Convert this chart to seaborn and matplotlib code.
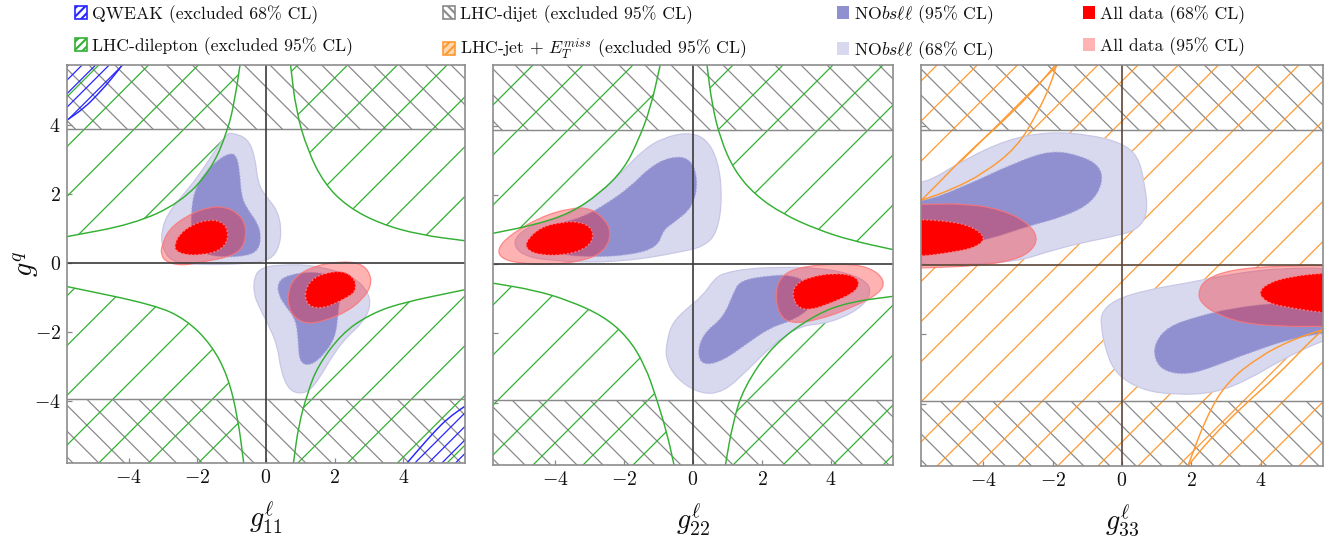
import numpy as np
import matplotlib
matplotlib.use('Agg')
import matplotlib.pyplot as plt
import seaborn as sns
from matplotlib.patches import Polygon, Patch, PathPatch
from matplotlib.path import Path
from matplotlib.collections import LineCollection

# ---------------- axes / text
xlim = (-5.8, 5.8)
ylim = (-5.8, 5.75)
ticks = [-4, -2, 0, 2, 4]
tick_labels = [r'$-4$', r'$-2$', r'$0$', r'$2$', r'$4$']
xlabels = [r'$g^{\ell}_{11}$', r'$g^{\ell}_{22}$', r'$g^{\ell}_{33}$']
ylabel = r'$g^{q}$'
dijet_cut = 3.88

# ---------------- exclusion boundaries
p1_dilep_tl = [(-5.8, 0.77), (-3.87, 1.13), (-2.5, 1.75), (-1.6, 2.7), (-1.11, 3.85), (-0.9, 4.8), (-0.75, 5.8)]
p1_dilep_tr = [(0.71, 5.8), (0.87, 4.44), (1.21, 3.28), (1.69, 2.32), (2.37, 1.64), (3.33, 1.14), (4.49, 0.82), (5.8, 0.65)]
p1_dilep_bl = [(-5.8, -0.68), (-3.24, -1.21), (-2.32, -1.64), (-1.59, -2.37), (-1.11, -3.28), (-0.82, -4.49), (-0.65, -5.8)]
p1_dilep_br = [(0.8, -5.8), (0.95, -4.7), (1.21, -3.77), (1.5, -3.0), (2.2, -2.05), (3.0, -1.5), (3.91, -1.16), (5.8, -0.77)]
p1_qweak_tl = [(-5.8, 4.15), (-5.3, 4.5), (-4.9, 4.9), (-4.5, 5.35), (-4.15, 5.8)]
p1_qweak_br = [(4.11, -5.8), (4.5, -5.35), (4.9, -4.9), (5.3, -4.5), (5.8, -4.15)]

p2_dilep_tl = [(-5.8, 0.89), (-4.6, 1.13), (-3.56, 1.47), (-2.69, 2.05), (-2.0, 2.75), (-1.62, 3.5), (-1.24, 4.46), (-0.94, 5.8)]
p2_dilep_tr = [(0.4, 5.8), (0.55, 4.6), (0.8, 3.6), (1.2, 2.7), (1.8, 2.0), (2.6, 1.45), (3.6, 1.0), (4.6, 0.68), (5.8, 0.42)]
p2_dilep_bl = [(-5.8, -0.55), (-4.6, -0.75), (-3.6, -1.05), (-2.6, -1.5), (-1.9, -2.1), (-1.4, -2.9), (-1.05, -3.9), (-0.75, -4.9), (-0.55, -5.8)]
p2_dilep_br = [(0.94, -5.8), (1.15, -4.6), (1.47, -3.56), (2.34, -2.3), (3.59, -1.43), (4.56, -1.09), (5.8, -0.93)]

p3_jet_tl_a = [(-5.8, 1.85), (-4.91, 2.16), (-3.97, 2.64), (-3.02, 3.39), (-2.44, 4.37), (-2.05, 5.2), (-1.88, 5.8)]
p3_jet_tl_b = [(-5.8, 1.85), (-5.4, 2.24), (-4.45, 3.22), (-3.48, 4.08), (-2.53, 5.03), (-1.88, 5.8)]
p3_jet_br_a = [(1.9, -5.8), (2.44, -4.37), (3.02, -3.39), (3.97, -2.64), (4.91, -2.16), (5.8, -1.87)]
p3_jet_br_b = [(1.9, -5.8), (2.53, -5.03), (3.48, -4.08), (4.45, -3.22), (5.4, -2.24), (5.8, -1.87)]

# ---------------- fit regions (no68 = light, no95 = dark, all95 = pink, all68 = red)
p1_no68_a = [(-1.01, 3.79), (-0.53, 3.62), (-0.32, 3.09), (-0.24, 2.32), (0.0, 1.93), (0.32, 1.55), (0.45, 1.01),
             (0.39, 0.48), (0.14, 0.10), (-0.53, -0.02), (-1.88, -0.05), (-2.75, 0.02), (-3.04, 0.48), (-3.04, 0.97),
             (-2.85, 1.45), (-2.46, 1.93), (-1.98, 2.51), (-1.5, 3.24), (-1.16, 3.72)]
p1_no95_a = [(-1.06, 3.19), (-0.87, 3.14), (-0.77, 2.71), (-0.72, 1.93), (-0.53, 1.55), (-0.24, 1.16), (-0.14, 0.77),
             (-0.22, 0.39), (-0.53, 0.21), (-1.3, 0.17), (-1.88, 0.29), (-2.15, 0.68), (-2.19, 1.45), (-2.08, 2.13),
             (-1.79, 2.61), (-1.4, 3.0)]
p1_all95_a = [(-3.04, 0.48), (-2.85, 0.97), (-2.27, 1.4), (-1.69, 1.62), (-1.21, 1.64), (-0.82, 1.45), (-0.61, 1.16),
              (-0.58, 0.77), (-0.72, 0.39), (-1.11, 0.17), (-1.79, 0.05), (-2.46, -0.08), (-2.95, 0.05), (-3.06, 0.29)]
p1_all68_a = [(-2.66, 0.53), (-2.54, 0.82), (-2.17, 1.11), (-1.69, 1.26), (-1.3, 1.21), (-1.11, 0.97), (-1.13, 0.6),
              (-1.4, 0.34), (-1.88, 0.24), (-2.37, 0.24), (-2.64, 0.37)]
p1_no68_b = [(-0.34, -0.39), (-0.14, -0.14), (0.34, -0.05), (1.4, -0.05), (2.56, -0.39), (3.0, -0.87), (3.04, -1.3),
             (2.8, -1.74), (2.37, -2.13), (1.98, -2.61), (1.59, -3.29), (1.26, -3.72), (0.92, -3.79), (0.63, -3.62),
             (0.43, -3.09), (0.34, -2.42), (0.1, -1.84), (-0.19, -1.3), (-0.36, -0.87)]
p1_no95_b = [(0.34, -0.56), (0.63, -0.34), (1.4, -0.24), (1.98, -0.39), (2.17, -0.87), (2.1, -1.45), (2.03, -2.13),
             (1.69, -2.66), (1.29, -2.98), (0.97, -2.88), (0.94, -2.22), (0.87, -1.64), (0.58, -1.26), (0.36, -0.92)]
p1_all95_b = [(0.63, -0.87), (0.82, -0.41), (1.4, -0.08), (2.17, 0.05), (2.75, 0.0), (3.04, -0.29), (3.06, -0.68),
              (2.8, -1.06), (2.37, -1.4), (1.79, -1.64), (1.26, -1.77), (0.87, -1.62), (0.66, -1.3)]
p1_all68_b = [(1.16, -0.77), (1.32, -0.48), (1.69, -0.29), (2.27, -0.22), (2.61, -0.48), (2.61, -0.82), (2.37, -0.99),
              (2.03, -1.16), (1.69, -1.3), (1.3, -1.28), (1.14, -1.04)]

p2_no68_a = [(-5.1, 0.85), (-4.6, 1.15), (-3.6, 1.4), (-2.7, 2.05), (-2.0, 2.72), (-1.44, 3.3), (-0.86, 3.65),
             (-0.17, 3.8), (0.36, 3.65), (0.73, 3.0), (0.85, 1.9), (0.7, 0.9), (0.3, 0.5), (-0.4, 0.35), (-1.2, 0.2),
             (-2.0, 0.1), (-3.0, 0.05), (-4.0, 0.1), (-4.8, 0.2), (-5.2, 0.5)]
p2_no95_a = [(-4.9, 0.5), (-4.6, 0.95), (-3.8, 1.2), (-3.18, 1.36), (-2.5, 1.75), (-1.82, 2.23), (-1.24, 2.81),
             (-0.66, 3.1), (-0.08, 3.07), (0.15, 2.43), (0.0, 1.65), (-0.57, 1.19), (-0.86, 0.99), (-1.03, 0.49),
             (-1.82, 0.26), (-2.98, 0.2), (-4.0, 0.3)]
p2_all95_a = [(-5.67, 0.45), (-5.3, 0.85), (-4.43, 1.36), (-3.56, 1.62), (-2.98, 1.62), (-2.54, 1.28), (-2.37, 0.9),
              (-2.54, 0.41), (-3.06, 0.12), (-4.13, -0.03), (-5.09, 0.03), (-5.57, 0.17)]
p2_all68_a = [(-4.86, 0.64), (-4.43, 1.07), (-3.76, 1.22), (-3.27, 1.22), (-2.93, 1.04), (-2.89, 0.7), (-3.18, 0.41),
              (-3.76, 0.26), (-4.43, 0.26), (-4.81, 0.41)]
p2_no68_b = [(-0.75, -2.2), (-0.6, -1.7), (-0.2, -1.3), (0.3, -0.9), (0.6, -0.45), (0.88, -0.26), (1.66, -0.12),
             (2.62, -0.09), (3.5, -0.1), (4.5, -0.25), (5.2, -0.6), (5.0, -1.2), (4.0, -1.7), (3.11, -1.77),
             (2.34, -2.3), (1.57, -3.07), (0.88, -3.7), (0.21, -3.75), (-0.5, -3.3), (-0.8, -2.7)]
p2_no95_b = [(0.3, -2.93), (0.12, -2.58), (0.3, -2.0), (0.88, -1.54), (1.17, -0.84), (1.37, -0.46), (2.33, -0.32),
             (2.82, -0.32), (3.3, -0.5), (3.5, -1.2), (2.91, -1.62), (2.24, -1.83), (1.57, -2.29), (0.88, -2.78)]
p2_all95_b = [(2.39, -0.84), (2.53, -0.37), (3.02, -0.09), (4.27, 0.03), (5.14, -0.09), (5.57, -0.46), (5.43, -0.84),
              (4.56, -1.28), (3.6, -1.62), (2.82, -1.72), (2.48, -1.43)]
p2_all68_b = [(2.87, -0.84), (3.02, -0.55), (3.4, -0.37), (4.07, -0.26), (4.65, -0.32), (4.85, -0.55), (4.65, -0.84),
              (3.98, -1.13), (3.4, -1.33), (3.02, -1.25)]

p3_no68_a = [(-6.5, 2.5), (-5.79, 2.26), (-4.54, 3.03), (-3.29, 3.61), (-2.13, 3.82), (-0.98, 3.75), (-0.02, 3.51),
             (0.46, 3.13), (0.65, 2.36), (0.75, 1.49), (0.46, 1.01), (-0.21, 0.82), (-1.17, 0.63), (-2.13, 0.38),
             (-3.0, 0.1), (-4.5, 0.0), (-6.5, 0.0)]
p3_no95_a = [(-6.5, 1.9), (-5.79, 1.78), (-4.54, 2.26), (-3.1, 2.93), (-2.04, 3.3), (-1.17, 3.13), (-0.64, 2.84),
             (-0.55, 2.36), (-0.88, 1.78), (-1.65, 1.39), (-2.71, 1.11), (-3.87, 0.72), (-5.0, 0.5), (-6.5, 0.5)]
p3_all95_a = [(-6.5, 1.73), (-5.79, 1.73), (-4.54, 1.76), (-3.48, 1.59), (-2.71, 1.2), (-2.42, 0.77), (-2.62, 0.38),
              (-3.1, 0.14), (-4.06, -0.03), (-5.79, -0.1), (-6.5, -0.1)]
p3_all68_a = [(-6.5, 1.3), (-5.79, 1.3), (-5.02, 1.25), (-4.35, 1.11), (-3.91, 0.77), (-4.25, 0.48), (-5.02, 0.34),
              (-5.79, 0.24), (-6.5, 0.24)]
p3_no68_b = [(-0.6, -1.39), (-0.21, -1.01), (0.75, -0.72), (1.9, -0.53), (3.0, -0.3), (4.5, -0.1), (6.5, -0.1),
             (6.5, -2.0), (5.83, -2.16), (4.6, -2.74), (3.63, -3.32), (2.67, -3.7), (1.52, -3.75), (0.56, -3.61),
             (-0.21, -3.13), (-0.5, -2.36), (-0.6, -1.78)]
p3_no95_b = [(0.94, -2.26), (1.33, -1.78), (2.19, -1.49), (3.2, -1.25), (4.5, -1.1), (6.5, -1.0), (6.5, -1.9),
             (5.08, -2.07), (3.63, -2.55), (2.67, -2.93), (1.9, -3.17), (1.23, -3.08), (0.94, -2.74)]
p3_all95_b = [(2.19, -0.82), (2.38, -0.43), (3.15, -0.14), (4.6, -0.03), (6.5, -0.02), (6.5, -1.78), (5.83, -1.78),
              (4.6, -1.78), (3.44, -1.68), (2.67, -1.39), (2.29, -1.11)]
p3_all68_b = [(3.92, -0.82), (4.21, -0.53), (4.88, -0.34), (5.83, -0.24), (6.5, -0.24), (6.5, -1.39), (5.83, -1.39),
              (4.88, -1.25), (4.21, -1.11)]

# ---------------- colours
c_qweak = '#2626ff'
c_dilep = '#33b033'
c_dijet = '#8a8a8a'
c_jet = '#ff9a33'
c_no95 = '#9090d0'
c_no68 = '#d8d8ee'
c_all68 = '#ff0000'
c_all95 = (1.0, 0.0, 0.0, 0.3)

sns.set_theme(style='white')
plt.rcParams['font.family'] = 'serif'
plt.rcParams['font.serif'] = ['cmr10']
plt.rcParams['mathtext.fontset'] = 'cm'
plt.rcParams['axes.unicode_minus'] = False


def smooth(pts):
    # closed outline drawn with quadratic curves through the edge midpoints
    p = np.asarray(pts, float)
    mids = (p + np.roll(p, -1, axis=0)) / 2
    verts = [mids[-1]]
    codes = [Path.MOVETO]
    for i in range(len(p)):
        verts += [p[i], mids[i]]
        codes += [Path.CURVE3, Path.CURVE3]
    verts.append(mids[-1])
    codes.append(Path.CLOSEPOLY)
    return Path(verts, codes)


def open_smooth(pts):
    # open curve through the end points, rounded at the inner vertices
    p = np.asarray(pts, float)
    mids = (p[:-1] + p[1:]) / 2
    verts = [p[0], mids[0]]
    codes = [Path.MOVETO, Path.LINETO]
    for i in range(1, len(p) - 1):
        verts += [p[i], mids[i]]
        codes += [Path.CURVE3, Path.CURVE3]
    verts.append(p[-1])
    codes.append(Path.LINETO)
    return verts, codes


def hatch(ax, clip, color, spacing, direction='/', lw=0.6, phase=0.0):
    ax.add_patch(clip)
    offs = np.arange(-1.2, 1.2, spacing) + phase
    if direction == '/':
        segs = [[(c, 0), (c + 1, 1)] for c in offs]
    else:
        segs = [[(c + 1, 0), (c, 1)] for c in offs]
    lc = LineCollection(segs, colors=color, linewidths=lw, transform=ax.transAxes, zorder=1)
    ax.add_collection(lc, autolim=False)
    lc.set_clip_path(clip)


def edge(ax, pts, color, lw=0.7):
    verts, codes = open_smooth(pts)
    ax.add_patch(PathPatch(Path(verts, codes), fc='none', ec=color, lw=lw, zorder=4))


def region(ax, curve, corner, color, spacing, phase=0.0):
    verts, codes = open_smooth(curve)
    verts = verts + [corner, corner]
    codes = codes + [Path.LINETO, Path.CLOSEPOLY]
    clip = PathPatch(Path(verts, codes), fc='none', ec='none', transform=ax.transData)
    hatch(ax, clip, color, spacing, '/', phase=phase)
    edge(ax, curve, color)


def blob(ax, pts, fc, ec='none', lw=0.6, ls='-', z=2):
    ax.add_patch(PathPatch(smooth(pts), fc=fc, ec=ec, lw=lw, ls=ls, zorder=z))


def blobs(ax, no68, no95, all95, all68):
    blob(ax, no68, 'white', z=2)
    blob(ax, all95, 'white', z=2)
    blob(ax, no68, c_no68, ec='#c8c8e6', z=2.1)
    blob(ax, no95, c_no95, ec='#a4a4da', ls=':', z=2.2)
    blob(ax, all95, c_all95, ec=(1, 0.45, 0.45, 0.8), z=2.3)
    blob(ax, all68, c_all68, ec='#ff8080', lw=0.7, ls=':', z=2.4)


fig = plt.figure(figsize=(1340 / 150, 541 / 150), dpi=150)
boxes = [(67, 465, 65, 463), (493, 893, 65, 465), (921, 1323, 65, 466)]
axes = []
for l, r, t, b in boxes:
    axes.append(fig.add_axes([l / 1340, 1 - b / 541, (r - l) / 1340, (b - t) / 541]))

cuts = [dijet_cut, -dijet_cut - 0.05]
for ax in axes:
    ax.set_xlim(*xlim)
    ax.set_ylim(*ylim)
    for cut in cuts:
        far = 7 if cut > 0 else -7
        band = Polygon([(-7, cut), (7, cut), (7, far), (-7, far)], closed=True,
                       fc='none', ec='none', transform=ax.transData)
        hatch(ax, band, c_dijet, 0.065, '\\', phase=0.02)
        sns.lineplot(x=list(xlim), y=[cut, cut], color=c_dijet, lw=0.7, ax=ax, zorder=1.5)
    ax.set_xlim(*xlim)
    ax.set_ylim(*ylim)

# panel 1
ax = axes[0]
region(ax, p1_dilep_tl, (-7, 7), c_dilep, 0.125, 0.03)
region(ax, p1_dilep_tr, (7, 7), c_dilep, 0.125, 0.03)
region(ax, p1_dilep_bl, (-7, -7), c_dilep, 0.125, 0.03)
region(ax, p1_dilep_br, (7, -7), c_dilep, 0.125, 0.03)
region(ax, p1_qweak_tl, (-7, 7), c_qweak, 0.034)
region(ax, p1_qweak_br, (7, -7), c_qweak, 0.034)
blobs(ax, p1_no68_a, p1_no95_a, p1_all95_a, p1_all68_a)
blobs(ax, p1_no68_b, p1_no95_b, p1_all95_b, p1_all68_b)

# panel 2
ax = axes[1]
region(ax, p2_dilep_tl, (-7, 7), c_dilep, 0.125, 0.05)
region(ax, p2_dilep_tr, (7, 7), c_dilep, 0.125, 0.05)
region(ax, p2_dilep_bl, (-7, -7), c_dilep, 0.125, 0.05)
region(ax, p2_dilep_br, (7, -7), c_dilep, 0.125, 0.05)
blobs(ax, p2_no68_a, p2_no95_a, p2_all95_a, p2_all68_a)
blobs(ax, p2_no68_b, p2_no95_b, p2_all95_b, p2_all68_b)

# panel 3
ax = axes[2]
whole = Polygon([(-7, -7), (7, -7), (7, 7), (-7, 7)], closed=True, fc='none', ec='none', transform=ax.transData)
hatch(ax, whole, c_jet, 0.1, '/', phase=0.04)
for curve in (p3_jet_tl_a, p3_jet_tl_b, p3_jet_br_a, p3_jet_br_b):
    edge(ax, curve, c_jet)
blobs(ax, p3_no68_a, p3_no95_a, p3_all95_a, p3_all68_a)
blobs(ax, p3_no68_b, p3_no95_b, p3_all95_b, p3_all68_b)

for i, ax in enumerate(axes):
    zc = '#5a4636' if i == 2 else '#3a3a3a'
    ax.axhline(0, color=zc, lw=0.8, zorder=5)
    ax.axvline(0, color=zc, lw=0.8, zorder=5)
    ax.set_xticks(ticks)
    ax.set_yticks(ticks)
    ax.set_xticklabels(tick_labels)
    ax.set_yticklabels(tick_labels if i == 0 else [])
    ax.tick_params(direction='in', length=2.2, width=0.6, color='#888888', labelsize=9.5, pad=3,
                   bottom=True, left=True, labelcolor='#111111')
    ax.set_xlabel(xlabels[i], fontsize=13.5, labelpad=6, color='#111111')
    for sp in ax.spines.values():
        sp.set_color('#8c8c8c')
        sp.set_linewidth(0.8)
        sp.set_zorder(6)
axes[0].set_ylabel(ylabel, fontsize=13.5, labelpad=-3.5, color='#111111')

# legend
handles = [
    Patch(fc='white', ec=c_qweak, hatch='//////', lw=0.8),
    Patch(fc='white', ec=c_dilep, hatch='//////', lw=0.8),
    Patch(fc='white', ec=c_dijet, hatch='\\\\\\\\\\\\', lw=0.8),
    Patch(fc='#ffd9b0', ec=c_jet, hatch='//////', lw=0.8),
    Patch(fc=c_no95, ec='none'),
    Patch(fc=c_no68, ec='none'),
    Patch(fc=c_all68, ec='none'),
    Patch(fc=(1, 0.7, 0.7), ec='none'),
]
labels = [
    'QWEAK (excluded 68% CL)',
    'LHC-dilepton (excluded 95% CL)',
    'LHC-dijet (excluded 95% CL)',
    r'LHC-jet + $E_T^{miss}$ (excluded 95% CL)',
    r'NO$bs\ell\ell$ (95% CL)',
    r'NO$bs\ell\ell$ (68% CL)',
    'All data (68% CL)',
    'All data (95% CL)',
]
fig.legend(handles, labels, ncol=4, loc='upper left', bbox_to_anchor=(75 / 1340, 1 - 3 / 541),
           frameon=False, fontsize=8.5, borderpad=0, borderaxespad=0, columnspacing=5.05,
           handlelength=0.7, handleheight=0.7, handletextpad=0.28, labelspacing=0.75,
           labelcolor='#111111')

fig.savefig('out.png', dpi=150)
